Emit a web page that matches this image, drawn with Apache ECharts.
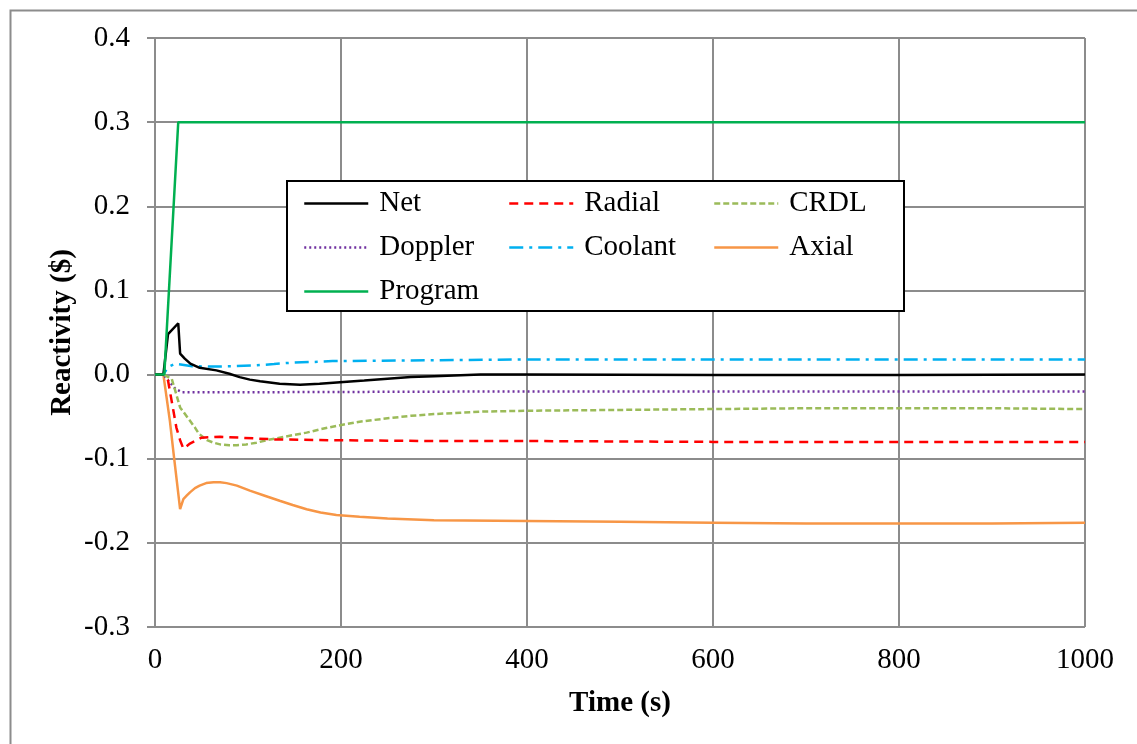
<!DOCTYPE html>
<html>
<head>
<meta charset="utf-8">
<style>
html, body { margin: 0; padding: 0; background: #fff; }
#main { width: 1137px; height: 744px; }
</style>
<script src="https://cdn.jsdelivr.net/npm/echarts@6/dist/echarts.min.js"></script>
</head>
<body>
<div id="main"></div>
<script>
// points as [time (s), reactivity ($)]
var netData = [[0,0],[9,0],[14,0.048],[25,0.061],[27,0.025],[32,0.019],[38,0.013],[48,0.008],[66,0.005],[80,0.001],[91,-0.003],[102,-0.006],[113,-0.008],[134,-0.011],[156,-0.012],[177,-0.011],[199,-0.009],[225,-0.007],[250,-0.005],[275,-0.003],[300,-0.002],[350,0],[400,0],[600,-0.0005],[800,-0.0005],[1000,0]];
var radialData = [[0,0],[9,0],[14,-0.007],[23,-0.063],[27,-0.078],[30.5,-0.088],[37.6,-0.082],[50,-0.075],[70,-0.074],[91,-0.075],[127,-0.077],[191,-0.078],[300,-0.079],[400,-0.079],[600,-0.080],[800,-0.080],[1000,-0.080]];
var crdlData = [[0,0],[9,0],[18,-0.005],[27,-0.039],[43,-0.063],[47,-0.070],[56,-0.078],[63,-0.081],[70,-0.083],[80,-0.084],[88,-0.084],[98,-0.083],[109,-0.081],[120,-0.078],[134,-0.075],[148,-0.072],[163,-0.069],[178,-0.065],[195,-0.061],[220,-0.056],[250,-0.052],[275,-0.049],[300,-0.047],[350,-0.044],[400,-0.043],[500,-0.042],[600,-0.041],[700,-0.040],[800,-0.040],[900,-0.040],[1000,-0.041]];
var dopplerData = [[0,0],[9,0],[15,-0.008],[22,-0.017],[29,-0.021],[100,-0.021],[400,-0.020],[1000,-0.020]];
var coolantData = [[0,0],[9,0],[14,0.009],[22,0.013],[40,0.010],[60,0.0095],[85,0.010],[109,0.011],[128,0.0125],[145,0.014],[170,0.015],[191,0.016],[240,0.0165],[300,0.017],[400,0.018],[600,0.018],[800,0.018],[1000,0.018]];
var axialData = [[0,0],[9,0],[16,-0.055],[20,-0.094],[27,-0.160],[30.5,-0.148],[34,-0.144],[37.6,-0.140],[43,-0.135],[48,-0.132],[55,-0.129],[63,-0.128],[70,-0.128],[77,-0.129],[88,-0.132],[102,-0.138],[118,-0.144],[134,-0.150],[148,-0.155],[163,-0.160],[178,-0.164],[195,-0.167],[220,-0.169],[250,-0.171],[300,-0.173],[400,-0.174],[500,-0.175],[600,-0.176],[700,-0.177],[800,-0.177],[900,-0.177],[1000,-0.176]];
var programData = [[0,0],[10,0],[25,0.3],[1000,0.3]];

var serif = 'Liberation Serif';
var gridColor = '#8c8c8c';

function lineSeries(name, data, color, type, z) {
    return {
        name: name,
        type: 'line',
        data: data,
        symbol: 'none',
        z: z,
        lineStyle: { color: color, width: 2.5, type: type },
        itemStyle: { color: color }
    };
}

function legendCol(left, names) {
    return {
        orient: 'vertical',
        left: left,
        top: 184,
        z: 30,
        itemGap: 15,
        itemWidth: 64,
        itemHeight: 14,
        selectedMode: false,
        itemStyle: { opacity: 0 },
        lineStyle: { width: 2.5 },
        data: names,
        textStyle: { fontFamily: serif, fontSize: 29, color: '#000', padding: [0, 0, 0, 6] }
    };
}

var myChart = echarts.init(document.getElementById('main'));
var option = {
    animation: false,
    backgroundColor: '#fff',
    graphic: [
        { type: 'rect', left: 8, top: 8, z: -1, shape: { width: 1140, height: 745 }, style: { fill: 'none', stroke: '#8c8c8c', lineWidth: 2 } },
        { type: 'rect', left: 286, top: 180, z: 20, shape: { width: 617, height: 130 }, style: { fill: '#fff', stroke: '#000', lineWidth: 2 } }
    ],
    grid: { left: 155, right: 52, top: 38, bottom: 117 },
    legend: [
        legendCol(298, ['Net', 'Doppler', 'Program']),
        legendCol(503, ['Radial', 'Coolant']),
        legendCol(708, ['CRDL', 'Axial'])
    ],
    xAxis: {
        type: 'value',
        min: 0, max: 1000, interval: 200,
        name: 'Time (s)',
        nameLocation: 'middle',
        nameGap: 62,
        nameTextStyle: { fontFamily: serif, fontSize: 29, fontWeight: 'bold', color: '#000' },
        axisLine: { show: true, lineStyle: { color: gridColor, width: 2 } },
        axisTick: { show: true, length: 8, lineStyle: { color: gridColor, width: 2 } },
        axisLabel: { fontFamily: serif, fontSize: 29, color: '#000', margin: 19, formatter: function (v) { return String(v); } },
        splitLine: { show: true, lineStyle: { color: gridColor, width: 2 } }
    },
    yAxis: {
        type: 'value',
        min: -0.3, max: 0.4, interval: 0.1,
        name: 'Reactivity ($)',
        nameLocation: 'middle',
        nameGap: 78,
        nameMoveOverlap: false,
        nameTextStyle: { fontFamily: serif, fontSize: 29, fontWeight: 'bold', color: '#000' },
        axisLine: { show: true, lineStyle: { color: gridColor, width: 2 } },
        axisTick: { show: true, length: 8, lineStyle: { color: gridColor, width: 2 } },
        axisLabel: {
            fontFamily: serif, fontSize: 29, color: '#000', margin: 25,
            formatter: function (v) { return v.toFixed(1); }
        },
        splitLine: { show: true, lineStyle: { color: gridColor, width: 2 } }
    },
    series: [
        lineSeries('Net', netData, '#000000', 'solid', 7),
        lineSeries('Radial', radialData, '#ff0000', [9, 6], 6),
        lineSeries('CRDL', crdlData, '#9bbb59', [6, 3], 5),
        lineSeries('Doppler', dopplerData, '#7030a0', [2, 3], 4),
        lineSeries('Coolant', coolantData, '#00b0f0', [14, 6, 3, 6], 3),
        lineSeries('Axial', axialData, '#f79646', 'solid', 2),
        lineSeries('Program', programData, '#00b050', 'solid', 8)
    ]
};
myChart.setOption(option);
</script>
</body>
</html>
